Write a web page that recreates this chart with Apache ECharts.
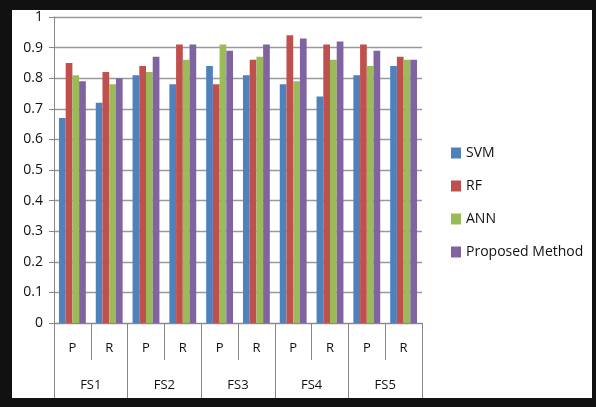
<!DOCTYPE html>
<html>
<head>
<meta charset="utf-8">
<script src="https://cdn.jsdelivr.net/npm/echarts@6/dist/echarts.min.js"></script>
<style>
  html, body { margin: 0; padding: 0; background: #fff; }
  #main { position: absolute; left: 0; top: 0; width: 596px; height: 407px; }
  #frame { position: absolute; left: 0; top: 0; width: 596px; height: 407px; box-sizing: border-box;
           border-style: solid; border-color: #111; border-width: 10px 4px 9px 12px; pointer-events: none; }
</style>
</head>
<body>
<div id="main"></div>
<div id="frame"></div>
<script>
var subLabels = ['P','R','P','R','P','R','P','R','P','R'];
var groups = ['FS1','FS2','FS3','FS4','FS5'];
var svm = [0.67,0.72,0.81,0.78,0.84,0.81,0.78,0.74,0.81,0.84];
var rf = [0.85,0.82,0.84,0.91,0.78,0.86,0.94,0.91,0.91,0.87];
var ann = [0.81,0.78,0.82,0.86,0.91,0.87,0.79,0.86,0.84,0.86];
var proposed = [0.79,0.80,0.87,0.91,0.89,0.91,0.93,0.92,0.89,0.86];
var yTicks = [0,0.1,0.2,0.3,0.4,0.5,0.6,0.7,0.8,0.9,1];

var myChart = echarts.init(document.getElementById('main'));
var font = 'Open Sans';
function bar(name, data, color) {
    return {
        name: name,
        type: 'bar',
        xAxisIndex: 0,
        data: data,
        barGap: 0,
        barCategoryGap: '27%',
        itemStyle: { color: color }
    };
}
var option = {
    backgroundColor: '#fff',
    animation: false,
    grid: { left: 54, right: 174, top: 17, bottom: 84 },
    legend: {
        orient: 'vertical',
        left: 446,
        top: 141,
        itemWidth: 10,
        itemHeight: 11,
        itemGap: 19,
        icon: 'rect',
        textStyle: { fontFamily: font, fontSize: 14, color: '#111' },
        data: ['SVM','RF','ANN','Proposed Method']
    },
    xAxis: [{
        type: 'category',
        data: subLabels,
        position: 'bottom',
        axisLine: { show: true, onZero: false, lineStyle: { color: '#888', width: 1 } },
        axisTick: { show: true, interval: 0, length: 37, lineStyle: { color: '#888' } },
        axisLabel: { margin: 19, fontFamily: font, fontSize: 13, color: '#111' }
    }, {
        type: 'category',
        data: groups,
        position: 'bottom',
        axisLine: { show: true, onZero: false, lineStyle: { color: '#888', width: 1 } },
        axisTick: { show: true, interval: 0, length: 75, lineStyle: { color: '#888' } },
        axisLabel: { margin: 56, fontFamily: font, fontSize: 13, color: '#111' }
    }],
    yAxis: {
        type: 'value',
        min: 0,
        max: 1,
        interval: 0.1,
        axisLine: { show: true, lineStyle: { color: '#888' } },
        axisTick: { show: true, length: 5, lineStyle: { color: '#888' } },
        axisLabel: {
            margin: 11,
            fontFamily: font, fontSize: 14, color: '#111',
            formatter: function (v) {
                var t = yTicks.find(function (x) { return Math.abs(x - v) < 1e-6; });
                return t === undefined ? '' : String(t);
            }
        },
        splitLine: { lineStyle: { color: '#999', width: 1.3 } }
    },
    series: [
        bar('SVM', svm, '#4F81BD'),
        bar('RF', rf, '#C0504D'),
        bar('ANN', ann, '#9BBB59'),
        bar('Proposed Method', proposed, '#8064A2')
    ]
};
myChart.setOption(option);
</script>
</body>
</html>
